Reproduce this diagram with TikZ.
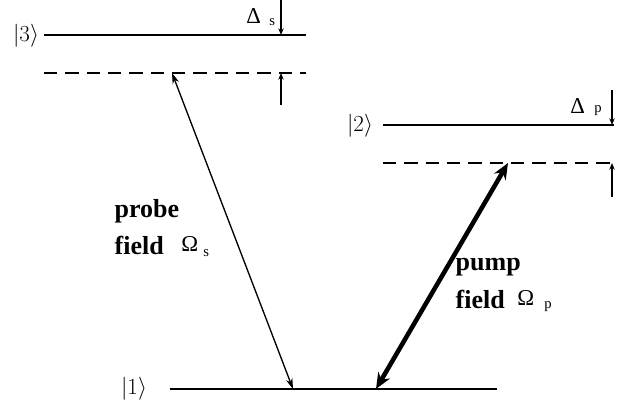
\documentclass[tikz,border=0pt]{standalone}
\usepackage{fontspec}
\setmainfont{Liberation Serif}
\usetikzlibrary{arrows.meta, positioning}

\begin{document}
\begin{tikzpicture}[
  x=0.75pt, y=-0.75pt,
  level/.style={line width=2.2pt},
  virt/.style={line width=2.2pt, dash pattern=on 10pt off 6pt},
  detarr/.style={-{Stealth[length=5pt, width=4pt]}, line width=1pt},
  probearr/.style={{Stealth[length=8pt, width=5pt]}-{Stealth[length=8pt, width=5pt]}, line width=1pt},
  pumparr/.style={{Stealth[length=12pt, width=10pt]}-{Stealth[length=12pt, width=10pt]}, line width=3.4pt},
  ket/.style={font=\fontsize{18}{20}\selectfont},
  lbl/.style={font=\fontsize{19.5}{22}\selectfont\bfseries, anchor=west},
  greek/.style={font=\fontsize{17}{19}\selectfont, anchor=west, inner sep=0pt},
  sub/.style={font=\fontsize{11}{13}\selectfont, anchor=west, inner sep=0pt},
]
\useasboundingbox (0,0) rectangle (642,410);

% Levels
\coordinate (l3a) at (44,35);   \coordinate (l3b) at (306,35);
\coordinate (v3a) at (44,73);   \coordinate (v3b) at (306,73);
\coordinate (l2a) at (383,125); \coordinate (l2b) at (614,125);
\coordinate (v2a) at (383,163); \coordinate (v2b) at (614,163);
\coordinate (l1a) at (170,389); \coordinate (l1b) at (497,389);
\draw[level] (l3a) -- (l3b);
\draw[virt]  (v3a) -- (v3b);
\draw[level] (l2a) -- (l2b);
\draw[virt]  (v2a) -- (v2b);
\draw[level] (l1a) -- (l1b);

% State labels
\node[ket] (k3) at (26,36) {$|3\rangle$};
\node[ket] (k2) at (360,126) {$|2\rangle$};
\node[ket] (k1) at (134,389) {$|1\rangle$};

% Detunings
\coordinate (ds0) at (281,0);   \coordinate (ds1) at (281,35);
\coordinate (ds2) at (281,105); \coordinate (ds3) at (281,73);
\draw[detarr] (ds0) -- (ds1);
\draw[detarr] (ds2) -- (ds3);
\node[greek] (dels) at (246,16) {Δ};
\node[sub] (dels-s) at (269,22) {s};

\coordinate (dp0) at (612,90);  \coordinate (dp1) at (612,125);
\coordinate (dp2) at (612,197); \coordinate (dp3) at (612,163);
\draw[detarr] (dp0) -- (dp1);
\draw[detarr] (dp2) -- (dp3);
\node[greek] (delp) at (570,106) {Δ};
\node[sub] (delp-p) at (594,111) {p};

% Fields
\coordinate (pr0) at (172,73);  \coordinate (pr1) at (293,389);
\draw[probearr] (pr0) -- (pr1);
\coordinate (pu0) at (508,163); \coordinate (pu1) at (376,389);
\draw[pumparr] (pu0) -- (pu1);

\node[lbl] (probe) at (110,211) {probe};
\node[lbl] (fields) at (110,245) {field};
\node[greek] (oms) at (181,244) {Ω};
\node[sub] (oms-s) at (203,253) {s};
\node[lbl] (pump) at (451,267) {pump};
\node[lbl] (fieldp) at (451,299) {field};
\node[greek] (omp) at (517,298) {Ω};
\node[sub] (omp-p) at (544,307) {p};

\end{tikzpicture}
\end{document}
